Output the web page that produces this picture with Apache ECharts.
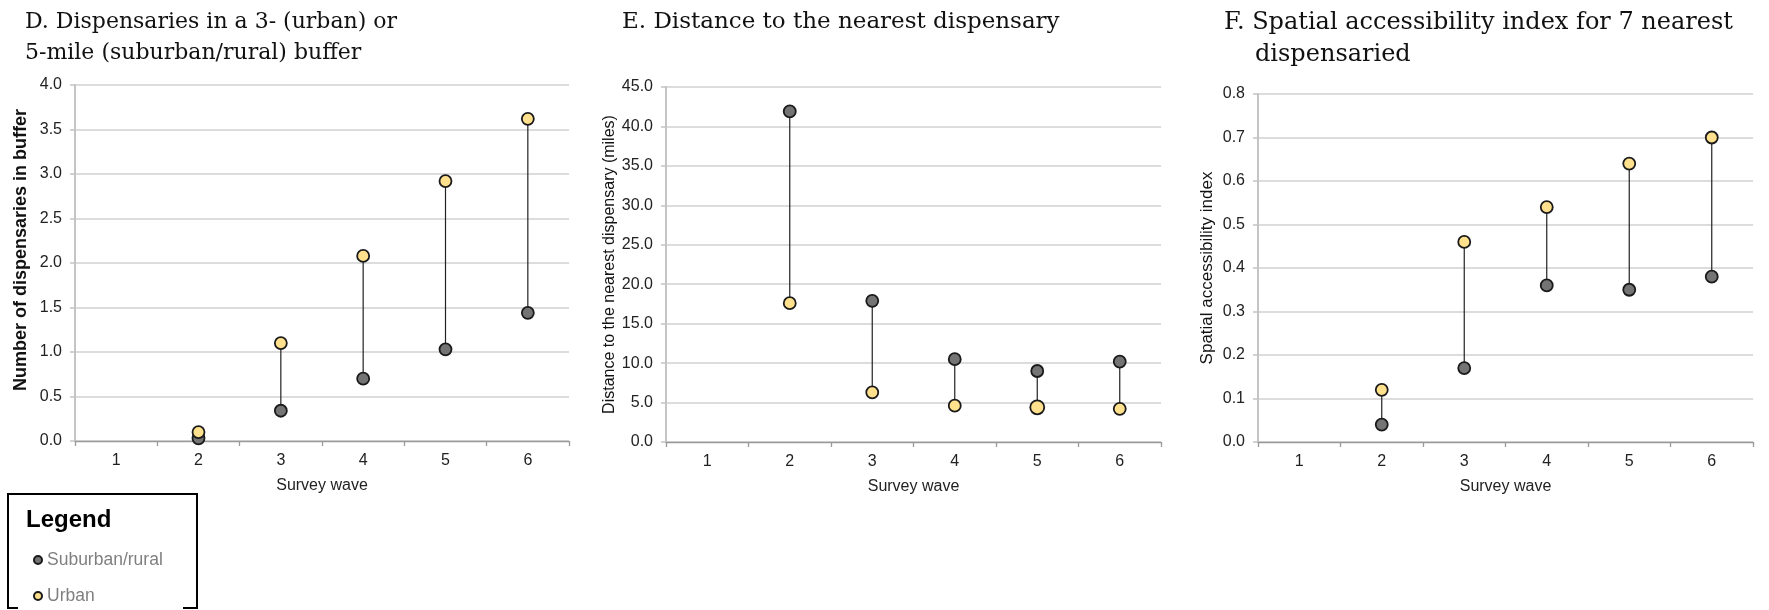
<!DOCTYPE html>
<html>
<head>
<meta charset="utf-8">
<script src="https://cdn.jsdelivr.net/npm/echarts@6/dist/echarts.min.js"></script>
<style>
html,body{margin:0;padding:0;background:#fff;}
#chart{width:1769px;height:610px;}
</style>
</head>
<body>
<div id="chart"></div>
<script>
// ---- data ----
const waves = ['1', '2', '3', '4', '5', '6'];
const seriesNames = ['Suburban/rural', 'Urban'];

const panelTitles = [
  'D. Dispensaries in a 3- (urban) or\n5-mile (suburban/rural) buffer',
  'E. Distance to the nearest dispensary',
  'F. Spatial accessibility index for 7 nearest',
  'dispensaried'
];
const yAxisNames = [
  'Number of dispensaries in buffer',
  'Distance to the nearest dispensary (miles)',
  'Spatial accessibility index'
];
const xAxisName = 'Survey wave';
const legendTitle = 'Legend';

const bufferSuburban = [null, 0.03, 0.34, 0.70, 1.03, 1.44];
const bufferUrban    = [null, 0.10, 1.10, 2.08, 2.92, 3.62];

const distanceSuburban = [null, 41.9, 17.9, 10.5, 9.0, 10.2];
const distanceUrban    = [null, 17.6, 6.3, 4.6, 4.4, 4.2];

const accessSuburban = [null, 0.04, 0.17, 0.36, 0.35, 0.38];
const accessUrban    = [null, 0.12, 0.46, 0.54, 0.64, 0.70];

const yRanges = [
  { min: 0, max: 4, interval: 0.5 },
  { min: 0, max: 45, interval: 5 },
  { min: 0, max: 0.8, interval: 0.1 }
];

// ---- styling / layout ----
const SUB_COLOR = '#747474';
const URB_COLOR = '#FFE08C';
const EDGE = '#1a1a1a';
const grids = [
  { left: 75, top: 85, width: 494, height: 356 },
  { left: 666, top: 87, width: 495, height: 355 },
  { left: 1258, top: 94, width: 495, height: 348 }
];
const nameSizes = [18, 16, 17];
const nameWeights = ['bold', 'normal', 'normal'];
const nameGaps = [45, 44, 42];
const namePads = [[0, 0, 0, 26], 0, 0];

const panels = [
  [bufferSuburban, bufferUrban],
  [distanceSuburban, distanceUrban],
  [accessSuburban, accessUrban]
];

const chart = echarts.init(document.getElementById('chart'), null, { renderer: 'canvas' });

const xAxes = [], yAxes = [], series = [];
panels.forEach((p, i) => {
  xAxes.push({
    gridIndex: i, type: 'category', data: waves, boundaryGap: true,
    name: xAxisName, nameLocation: 'middle', nameGap: 37,
    nameTextStyle: { fontFamily: 'Liberation Sans, Arial', fontSize: 16, color: '#222' },
    axisLine: { lineStyle: { color: '#9a9a9a', width: 1.3 } },
    axisTick: { show: true, length: 5, lineStyle: { color: '#9a9a9a', width: 1.3 } },
    axisLabel: { fontFamily: 'Liberation Sans, Arial', fontSize: 16, color: '#222', margin: 12 },
    splitLine: { show: false }
  });
  yAxes.push({
    gridIndex: i, type: 'value',
    min: yRanges[i].min, max: yRanges[i].max, interval: yRanges[i].interval,
    name: yAxisNames[i], nameLocation: 'middle', nameGap: nameGaps[i],
    nameTextStyle: { fontFamily: 'Liberation Sans, Arial', fontSize: nameSizes[i], fontWeight: nameWeights[i], color: '#111', padding: namePads[i] },
    axisLine: { show: true, lineStyle: { color: '#c4c4c4', width: 2 } },
    axisTick: { show: true, length: 5, lineStyle: { color: '#c4c4c4', width: 1.5 } },
    axisLabel: { fontFamily: 'Liberation Sans, Arial', fontSize: 16, color: '#222', margin: 13,
      formatter: v => v.toFixed(1) },
    splitLine: { show: true, lineStyle: { color: '#dcdcdc', width: 2 } }
  });
  const sub = p[0], urb = p[1];
  const segs = [];
  sub.forEach((v, k) => { if (v != null && urb[k] != null) segs.push([k, v, urb[k]]); });
  series.push({
    type: 'custom', xAxisIndex: i, yAxisIndex: i, z: 1, silent: true,
    data: segs,
    renderItem: (params, api) => {
      const a = api.coord([api.value(0), api.value(1)]);
      const b = api.coord([api.value(0), api.value(2)]);
      return { type: 'line', shape: { x1: a[0], y1: a[1], x2: b[0], y2: b[1] },
        style: { stroke: '#222', lineWidth: 1.2 } };
    }
  });
  series.push({
    type: 'scatter', name: seriesNames[0], xAxisIndex: i, yAxisIndex: i, z: 3,
    symbol: 'circle', symbolSize: 12,
    itemStyle: { color: SUB_COLOR, borderColor: EDGE, borderWidth: 1.8, opacity: 1 },
    data: sub.map(v => v == null ? '-' : v)
  });
  series.push({
    type: 'scatter', name: seriesNames[1], xAxisIndex: i, yAxisIndex: i, z: 4,
    symbol: 'circle',
    symbolSize: (i === 1) ? ((v, prm) => prm.dataIndex === 4 ? 14 : 12) : 12,
    itemStyle: { color: URB_COLOR, borderColor: EDGE, borderWidth: 1.8, opacity: 1 },
    data: urb.map(v => v == null ? '-' : v)
  });
});

const titleStyle = (size) => ({ fontFamily: 'DejaVu Serif', fontSize: size, fontWeight: 'normal', color: '#111', lineHeight: 31 });

chart.setOption({
  backgroundColor: '#fff',
  animation: false,
  title: [
    { text: panelTitles[0], left: 25, top: 7, padding: 0, textStyle: titleStyle(22) },
    { text: panelTitles[1], left: 622, top: 7, padding: 0, textStyle: titleStyle(23) },
    { text: panelTitles[2], left: 1224, top: 7, padding: 0, textStyle: titleStyle(24) },
    { text: panelTitles[3], left: 1255, top: 39, padding: 0, textStyle: titleStyle(24) }
  ],
  grid: grids.map(g => Object.assign({ containLabel: false }, g)),
  xAxis: xAxes,
  yAxis: yAxes,
  legend: {
    data: seriesNames, orient: 'vertical', left: 33, top: 551, padding: 0,
    icon: 'circle', itemWidth: 8, itemHeight: 10, itemGap: 18,
    textStyle: { fontFamily: 'Liberation Sans, Arial', fontSize: 17.5, color: '#7f7f7f' },
    selectedMode: false
  },
  graphic: [
    { type: 'polyline', silent: true, z: 10,
      shape: { points: [[18, 608], [8, 608], [8, 494], [197, 494], [197, 608], [183, 608]] },
      style: { stroke: '#000', lineWidth: 2, fill: null } },
    { type: 'text', left: 26, top: 508, silent: true,
      style: { text: legendTitle, font: 'bold 24px "Liberation Sans", Arial', fill: '#000' } }
  ],
  series: series
});
</script>
</body>
</html>
